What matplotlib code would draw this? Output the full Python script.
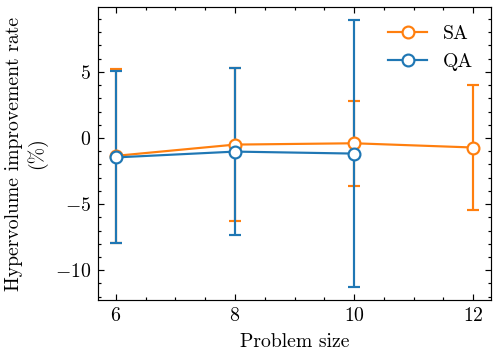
import matplotlib
matplotlib.use("Agg")
import matplotlib.pyplot as plt
from matplotlib.ticker import AutoMinorLocator

# -----------------------------
# data
# -----------------------------
sa_sizes = [6, 8, 10, 12]
sa_mean = [-1.35, -0.5, -0.4, -0.72]
sa_err = [6.6, 5.8, 3.2, 4.76]

qa_sizes = [6, 8, 10]
qa_mean = [-1.47, -1.03, -1.18]
qa_err = [6.5, 6.3, 10.07]

# -----------------------------
# style (science-like)
# -----------------------------
plt.rcParams.update({
    "font.family": "serif",
    "font.serif": ["cmr10"],
    "mathtext.fontset": "cm",
    "axes.formatter.use_mathtext": True,
    "font.size": 10,
    "axes.linewidth": 0.6,
    "xtick.direction": "in",
    "ytick.direction": "in",
    "xtick.top": True,
    "ytick.right": True,
    "xtick.major.size": 3,
    "ytick.major.size": 3,
    "xtick.minor.size": 1.5,
    "ytick.minor.size": 1.5,
    "xtick.major.width": 0.6,
    "ytick.major.width": 0.6,
    "xtick.minor.width": 0.6,
    "ytick.minor.width": 0.6,
    "legend.frameon": False,
})

dpi = 142
fig = plt.figure(figsize=(498 / dpi, 358 / dpi), dpi=dpi)
ax = fig.add_axes([0.197, 0.162, 0.789, 0.818])

style = dict(marker="o", markersize=6, markerfacecolor="white", markeredgewidth=1.1,
             linewidth=1.1, capsize=3, capthick=1.1, elinewidth=1.1)
sa = ax.errorbar(sa_sizes, sa_mean, yerr=sa_err, color="#ff7f0e", label="SA", **style)
qa = ax.errorbar(qa_sizes, qa_mean, yerr=qa_err, color="#1f77b4", label="QA", **style)

ax.set_xticks([6, 8, 10, 12])
ax.xaxis.set_minor_locator(AutoMinorLocator(4))
ax.yaxis.set_minor_locator(AutoMinorLocator(5))
ax.set_xlabel("Problem size")
ax.set_ylabel("Hypervolume improvement rate\n(%)")

# legend shows only line + marker, no error bar
ax.legend([sa[0], qa[0]], ["SA", "QA"], loc="upper right")

fig.savefig("out.png", dpi=dpi)
